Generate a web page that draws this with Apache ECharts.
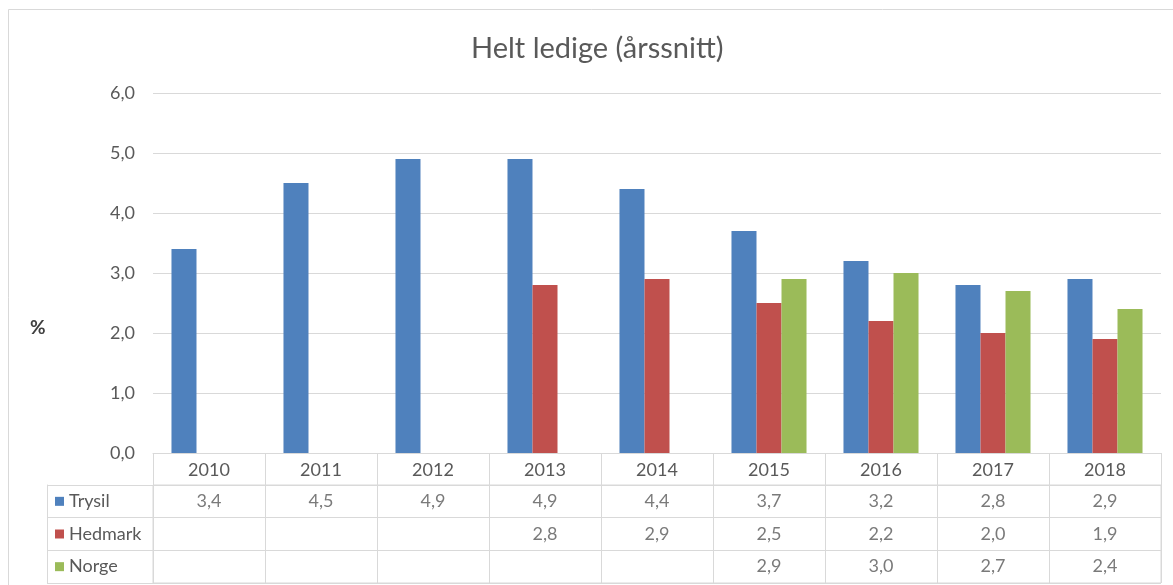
<!DOCTYPE html>
<html>
<head>
<meta charset="utf-8">
<script src="https://cdn.jsdelivr.net/npm/echarts@6/dist/echarts.min.js"></script>
<style>
  html, body { margin: 0; padding: 0; background: #fff; }
  #main { width: 1173px; height: 585px; }
</style>
</head>
<body>
<div id="main"></div>
<script>
const years = ['2010', '2011', '2012', '2013', '2014', '2015', '2016', '2017', '2018'];
const trysil = [3.4, 4.5, 4.9, 4.9, 4.4, 3.7, 3.2, 2.8, 2.9];
const hedmark = [null, null, null, 2.8, 2.9, 2.5, 2.2, 2.0, 1.9];
const norge = [null, null, null, null, null, 2.9, 3.0, 2.7, 2.4];
const seriesNames = ['Trysil', 'Hedmark', 'Norge'];
const colors = ['#4F81BD', '#C0504D', '#9BBB59'];

const fmt = v => v.toFixed(1).replace('.', ',');
const font = 'Lato, "Open Sans", sans-serif';
const gray = '#d9d9d9';
const txt = '#595959';

const chart = echarts.init(document.getElementById('main'), null, { renderer: 'canvas' });

const tableRow = (arr, name) => arr
  .map((v, i) => v == null ? null : [years[i], name, v])
  .filter(d => d);

const rich = {};
seriesNames.forEach((n, i) => {
  rich['s' + i] = { width: 9, height: 9, backgroundColor: colors[i] };
});
rich.t = { fontSize: 18, color: txt, fontFamily: font, padding: [0, 0, 0, 5] };

const option = {
  animation: false,
  backgroundColor: '#fff',
  textStyle: { fontFamily: font },
  title: [
    {
      text: 'Helt ledige (årssnitt)',
      left: 466,
      top: 29,
      textStyle: { fontSize: 29, fontWeight: 'normal', color: txt, fontFamily: font }
    },
    {
      // y axis title
      text: '%',
      left: 25,
      top: 313,
      textStyle: { fontSize: 19, fontWeight: 'bold', color: '#404040', fontFamily: font }
    }
  ],
  graphic: [{
    type: 'rect',
    shape: { x: 8.5, y: 9.5, width: 1200, height: 600 },
    style: { fill: 'none', stroke: gray, lineWidth: 1 },
    silent: true
  }],
  grid: [
    { left: 153, right: 12, top: 93, height: 360 },
    { left: 153, right: 12, top: 485, height: 98, show: true, borderColor: gray, borderWidth: 1 }
  ],
  xAxis: [
    {
      gridIndex: 0,
      type: 'category',
      data: years,
      axisLine: { lineStyle: { color: gray } },
      axisTick: { show: true, length: 32, interval: 0, lineStyle: { color: gray } },
      axisLabel: { fontSize: 18, color: txt, margin: 8, interval: 0 }
    },
    {
      gridIndex: 1,
      type: 'category',
      data: years,
      axisLine: { show: false },
      axisTick: { show: false },
      axisLabel: { show: false },
      splitLine: { show: true, interval: 0, lineStyle: { color: gray } }
    }
  ],
  yAxis: [
    {
      gridIndex: 0,
      type: 'value',
      min: 0,
      max: 6,
      interval: 1,
      axisLine: { show: false },
      axisTick: { show: false },
      axisLabel: { fontSize: 18, color: txt, margin: 18, formatter: v => fmt(v) },
      splitLine: { lineStyle: { color: gray } }
    },
    {
      gridIndex: 1,
      type: 'category',
      data: seriesNames,
      inverse: true,
      axisLine: { show: false },
      axisTick: { show: true, length: 106, interval: 0, lineStyle: { color: gray } },
      axisLabel: {
        align: 'left',
        margin: 98,
        interval: 0,
        formatter: v => '{s' + seriesNames.indexOf(v) + '|}{t|' + v + '}',
        rich: rich
      },
      splitLine: { show: true, interval: 0, lineStyle: { color: gray } }
    },
    {
      gridIndex: 1,
      type: 'category',
      data: seriesNames,
      position: 'left',
      offset: 106,
      axisLine: { show: true, lineStyle: { color: gray } },
      axisTick: { show: false },
      axisLabel: { show: false },
      splitLine: { show: false }
    }
  ],
  series: [
    ...[trysil, hedmark, norge].map((arr, i) => ({
      name: seriesNames[i],
      type: 'bar',
      xAxisIndex: 0,
      yAxisIndex: 0,
      data: arr,
      barGap: '0%',
      barCategoryGap: '33%',
      itemStyle: { color: colors[i] }
    })),
    ...[trysil, hedmark, norge].map((arr, i) => ({
      name: seriesNames[i] + ' tabell',
      type: 'scatter',
      xAxisIndex: 1,
      yAxisIndex: 1,
      symbolSize: 1,
      itemStyle: { color: 'rgba(0,0,0,0)' },
      data: tableRow(arr, seriesNames[i]),
      label: {
        show: true,
        position: 'inside',
        fontSize: 18,
        color: txt,
        fontFamily: font,
        formatter: p => fmt(p.value[2])
      }
    }))
  ]
};

chart.setOption(option);
window.onresize = () => chart.resize();
</script>
</body>
</html>
